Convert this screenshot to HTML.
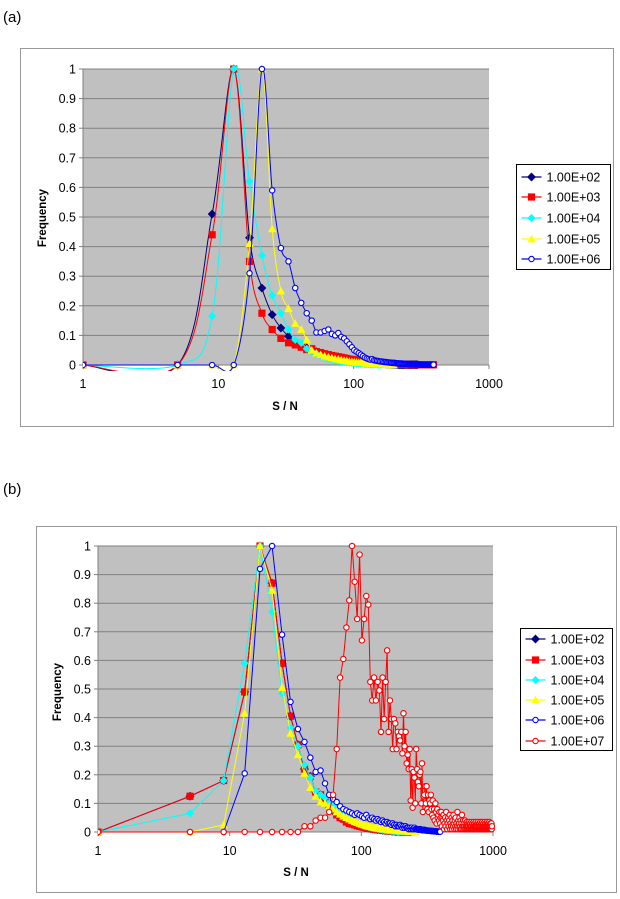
<!DOCTYPE html>
<html><head><meta charset="utf-8"><style>
html,body{margin:0;padding:0;background:#fff;width:620px;height:899px;overflow:hidden}
svg{display:block;font-family:"Liberation Sans",Arial,sans-serif}
</style></head><body>
<svg id="page" width="620" height="899" viewBox="0 0 620 899" xmlns="http://www.w3.org/2000/svg"></svg>
<script>
const binStart = 1, binWidth = 4;
const yTicks = [0,0.1,0.2,0.3,0.4,0.5,0.6,0.7,0.8,0.9,1];
const yTickLabels = ["0","0.1","0.2","0.3","0.4","0.5","0.6","0.7","0.8","0.9","1"];
const xTicks = [1,10,100,1000];
const xTickLabels = ["1","10","100","1000"];
const seriesNamesA = ["1.00E+02","1.00E+03","1.00E+04","1.00E+05","1.00E+06"];
const seriesNamesB = ["1.00E+02","1.00E+03","1.00E+04","1.00E+05","1.00E+06","1.00E+07"];

const aE2 = [0,0,0.51,1,0.43,0.26,0.17,0.125,0.097,0.078,0.066,0.058,0.05,0.045,0.04,0.036,0.032,0.029,0.026,0.024,0.022,0.02,0.018,0.017,0.015,0.014,0.013,0.012,0.011,0.01,0.009,0.009,0.008,0.007,0.007,0.006,0.006,0.005,0.005,0.005,0.004,0.004,0.004,0.003,0.003,0.003,0.003,0.002,0.002,0.002,0.002,0.002,0.002,0.001,0.001,0.001,0.001,0.001,0.001,0.001,0.001,0.001,0.001,0.001,0.001,0.001,0.001,0.001,0.001,0.001,0.001,0.001,0.001,0.001,0.001];
const aE3 = [0,0,0.44,1,0.35,0.175,0.12,0.09,0.075,0.068,0.06,0.052,0.055,0.045,0.042,0.038,0.035,0.032,0.03,0.028,0.026,0.024,0.022,0.02,0.019,0.018,0.016,0.015,0.014,0.013,0.012,0.011,0.01,0.01,0.009,0.008,0.008,0.007,0.007,0.006,0.006,0.005,0.005,0.005,0.004,0.004,0.004,0.004,0.003,0.003,0.003,0.003,0.003,0.002,0.002,0.002,0.002,0.002,0.002,0.002,0.002,0.002,0.001,0.001,0.001,0.001,0.001,0.001,0.001,0.001,0.001,0.001,0.001,0.001,0.001,0.001,0.001,0.001,0.001,0.001,0.001,0.001,0.001,0.001,0.001,0.001,0.001,0.001,0.001,0.001,0.001,0.001,0.001,0.001,0.001,0.001,0.001,0.001];
const aE4 = [0,0,0.165,1,0.62,0.37,0.235,0.175,0.12,0.085,0.075,0.055,0.045,0.038,0.03,0.025,0.021,0.018,0.015,0.013,0.011,0.01,0.009,0.008,0.007,0.006,0.005,0.005,0.004,0.004,0.003,0.003,0.003,0.002,0.002,0.002,0.002,0.001,0.001,0.001];
const aE5 = [0,0,0,0,0.41,1,0.46,0.25,0.19,0.14,0.12,0.085,0.05,0.04,0.035,0.03,0.027,0.024,0.021,0.019,0.017,0.015,0.014,0.012,0.011,0.01,0.009,0.008,0.008,0.007,0.006,0.006,0.005,0.005,0.004,0.004,0.004,0.003,0.003,0.003,0.003,0.002,0.002,0.002,0.002,0.002,0.001,0.001,0.001,0.001];
const aE6 = [0,0,0,0,0.31,1,0.59,0.395,0.35,0.26,0.21,0.175,0.15,0.11,0.11,0.115,0.12,0.105,0.1,0.108,0.095,0.09,0.08,0.07,0.06,0.05,0.045,0.04,0.035,0.03,0.025,0.022,0.02,0.018,0.02,0.016,0.015,0.014,0.013,0.012,0.012,0.011,0.01,0.01,0.009,0.009,0.008,0.008,0.007,0.007,0.007,0.006,0.006,0.006,0.005,0.005,0.005,0.005,0.004,0.004,0.004,0.004,0.004,0.003,0.003,0.003,0.003,0.003,0.003,0.002,0.002,0.002,0.002,0.002,0.002,0.002,0.002,0.002,0.001,0.001,0.001,0.001,0.001,0.001,0.001,0.001,0.001,0.001,0.001,0.001,0.001,0.001,0.001,0.001,0.001,0.001,0.001,0.001];

const bE2 = [0,0.125,0.18,0.49,1,0.87,0.59,0.405,0.305,0.22,0.195,0.14,0.13,0.11,0.09,0.075,0.06,0.05,0.045,0.035,0.03,0.028,0.025,0.022,0.02,0.018,0.016,0.015,0.013,0.012,0.011,0.01,0.009,0.008,0.008,0.007,0.006,0.006,0.005,0.005,0.004,0.004,0.003,0.003,0.003,0.002,0.002,0.002,0.002,0.001,0.001,0.001,0.001,0.001,0.001,0.001,0.001,0.001,0.001,0.001];
const bE3 = [0,0.125,0.18,0.49,1,0.87,0.59,0.405,0.305,0.22,0.195,0.14,0.13,0.11,0.09,0.075,0.06,0.05,0.045,0.035,0.03,0.028,0.025,0.022,0.02,0.018,0.016,0.015,0.013,0.012,0.011,0.01,0.009,0.008,0.008,0.007,0.006,0.006,0.005,0.005,0.004,0.004,0.003,0.003,0.003,0.002,0.002,0.002,0.002,0.001,0.001,0.001,0.001,0.001,0.001,0.001,0.001,0.001,0.001,0.001];
const bE4 = [0,0.065,0.18,0.59,1,0.77,0.485,0.365,0.3,0.235,0.19,0.145,0.13,0.12,0.1,0.09,0.08,0.07,0.06,0.052,0.045,0.04,0.035,0.031,0.028,0.025,0.022,0.02,0.018,0.016,0.014,0.013,0.012,0.011,0.01,0.009,0.008,0.007,0.007,0.006,0.005,0.005,0.004,0.004,0.003,0.003,0.003,0.002,0.002,0.002,0.002,0.001,0.001,0.001,0.001,0.001,0.001,0.001];
const bE5 = [0,0,0.025,0.415,1,0.845,0.505,0.345,0.27,0.205,0.155,0.125,0.105,0.1,0.09,0.08,0.07,0.062,0.055,0.05,0.045,0.04,0.036,0.033,0.03,0.027,0.025,0.022,0.02,0.019,0.017,0.016,0.015,0.014,0.013,0.012,0.011,0.01,0.01,0.009,0.008,0.008,0.007,0.007,0.006,0.006,0.005,0.005,0.005,0.004,0.004,0.004,0.003,0.003,0.003,0.003,0.002,0.002,0.002,0.002,0.002,0.001,0.001,0.001,0.001,0.001];
const bE6 = [0,0,0,0.205,0.92,1,0.69,0.455,0.36,0.315,0.26,0.21,0.215,0.17,0.13,0.115,0.105,0.09,0.08,0.075,0.07,0.065,0.06,0.065,0.06,0.055,0.05,0.06,0.05,0.045,0.05,0.045,0.04,0.045,0.04,0.035,0.04,0.035,0.03,0.035,0.03,0.03,0.025,0.03,0.025,0.02,0.025,0.02,0.02,0.025,0.02,0.015,0.02,0.015,0.02,0.015,0.015,0.01,0.015,0.01,0.015,0.01,0.01,0.015,0.01,0.01,0.01,0.008,0.01,0.008,0.01,0.008,0.006,0.008,0.006,0.008,0.006,0.005,0.006,0.005,0.005,0.004,0.005,0.004,0.004,0.003,0.004,0.003,0.003,0.002,0.003,0.002,0.002,0.002,0.001,0.002,0.001,0.001,0.001,0.001];
const bE7 = [0,0,0,0,0,0,0,0,0,0.02,0.02,0.04,0.05,0.05,0.07,0.13,0.29,0.54,0.605,0.715,0.81,1,0.875,0.745,0.97,0.67,0.745,0.825,0.795,0.525,0.46,0.54,0.46,0.525,0.495,0.35,0.54,0.395,0.525,0.635,0.35,0.46,0.395,0.29,0.395,0.38,0.29,0.35,0.335,0.32,0.35,0.275,0.415,0.3,0.35,0.24,0.27,0.22,0.29,0.11,0.22,0.085,0.21,0.19,0.1,0.29,0.22,0.175,0.16,0.2,0.21,0.1,0.24,0.07,0.125,0.13,
0.16,0.1,0.16,0.08,0.13,0.07,0.11,0.1,0.13,0.08,0.06,0.11,0.05,0.08,0.04,0.1,0.07,0.03,0.08,0.05,0.06,0.04,0.07,0.03,0.05,
0.07,0.02,0.05,0.04,0.06,0.01,0.03,0.05,0.02,0.07,0.04,0.01,0.03,0.05,0.02,0.04,0.06,0.01,0.03,0.02,0.05,0.01,0.04,0.02,0.06,0.03,0.01,0.04,0.02,0.05,0.01,0.03,0.02,0.07,0.01,0.04,0.02,0.03,0.05,0.01,0.02,0.04,0.01,0.03,0.06,0.02,0.01,0.04,0.02,
0.03,0.01,0.02,0.04,0.01,0.03,0.02,0.01,0.035,0.02,0.01,0.03,0.02,0.01,0.035,0.01,0.02,0.03,0.01,0.02,0.01,0.035,0.02,0.01,0.03,0.01,0.02,0.01,0.035,0.02,0.01,0.03,0.02,0.01,0.02,0.035,0.01,0.02,0.01,0.03,0.02,0.01,0.035,0.01,0.02,0.01,0.03,0.02,0.01,0.02,0.035,0.01,0.02,0.01,0.03,0.01,0.02,0.035,0.01,0.02,0.01,0.03,0.02,0.01,0.02,0.01,0.035,0.01,0.02,0.01,0.03,0.02,0.01,0.02,0.01,0.035,0.01,0.02,0.01,0.03,0.02,0.01,0.02,0.01,0.035,0.01,0.02,0.01,0.03,0.02,0.01,0.02,0.01,0.03,0.01,0.02];

const NS = "http://www.w3.org/2000/svg";
const page = document.getElementById('page');
function mk(tag, attrs, parent){ const e=document.createElementNS(NS,tag); for(const k in attrs) e.setAttribute(k,attrs[k]); (parent||page).appendChild(e); return e; }

const styles = [
  {color:'#000080', marker:'diamond', size:4.2},
  {color:'#ff0000', marker:'square', size:3.6},
  {color:'#00ffff', marker:'diamond', size:3.8},
  {color:'#ffff00', marker:'triangle', size:4.2},
  {color:'#0000ff', marker:'circle', size:2.7},
  {color:'#ff0000', marker:'circle', size:2.7}
];

function drawMarker(g, st, x, y){
  let m;
  if(st.marker==='diamond'){ const s=st.size; m=mk('polygon',{points:`${x},${y-s} ${x+s},${y} ${x},${y+s} ${x-s},${y}`,fill:st.color,stroke:st.color,'stroke-width':0.5},g); }
  else if(st.marker==='square'){ const s=st.size; m=mk('rect',{x:x-s,y:y-s,width:2*s,height:2*s,fill:st.color},g); }
  else if(st.marker==='triangle'){ const s=st.size; m=mk('polygon',{points:`${x},${y-s} ${x+s},${y+s*0.8} ${x-s},${y+s*0.8}`,fill:st.color},g); }
  else { m=mk('circle',{cx:x,cy:y,r:st.size,fill:'#fff',stroke:st.color,'stroke-width':1.1},g); }
  
  
}

function smoothPath(pts){
  if(pts.length<2) return '';
  let d=`M${pts[0][0]},${pts[0][1]}`;
  for(let i=0;i<pts.length-1;i++){
    const p0=pts[i-1]||pts[i], p1=pts[i], p2=pts[i+1], p3=pts[i+2]||p2;
    const c1=[p1[0]+(p2[0]-p0[0])/6, p1[1]+(p2[1]-p0[1])/6];
    const c2=[p2[0]-(p3[0]-p1[0])/6, p2[1]-(p3[1]-p1[1])/6];
    d+=` C${c1[0]},${c1[1]} ${c2[0]},${c2[1]} ${p2[0]},${p2[1]}`;
  }
  return d;
}

function chart(cfg){
  const g = mk('g',{});
  
  
  const fr = mk('rect',{x:cfg.frame[0],y:cfg.frame[1],width:cfg.frame[2],height:cfg.frame[3],fill:'#fff',stroke:'#999','stroke-width':1},g);
   
  const [L,T,R,B]=cfg.plot;
  const xs = v => L + (Math.log10(v)-0)/3*(R-L);
  const ys = v => B - v*(B-T);
  const pa = mk('rect',{x:L,y:T,width:R-L,height:B-T,fill:'#c0c0c0'},g);
   
  yTicks.forEach((t,i)=>{
    if(t>0){ const gl=mk('line',{x1:L,x2:R,y1:ys(t),y2:ys(t),stroke:'#808080','stroke-width':1},g);
        }
    mk('line',{x1:L-4,x2:L,y1:ys(t),y2:ys(t),stroke:'#808080'},g);
    const tx=mk('text',{x:L-7,y:ys(t)+4.5,'text-anchor':'end','font-size':12.5,fill:'#000'},g);
    tx.textContent=yTickLabels[i];
     
  });
  mk('line',{x1:L,x2:L,y1:T,y2:B,stroke:'#808080'},g);
  mk('line',{x1:L,x2:R,y1:B,y2:B,stroke:'#808080'},g);
  xTicks.forEach((t,i)=>{
    mk('line',{x1:xs(t),x2:xs(t),y1:B,y2:B+4,stroke:'#808080'},g);
    const tx=mk('text',{x:xs(t),y:cfg.xTickY,'text-anchor':'middle','font-size':12.5},g);
    tx.textContent=xTickLabels[i];
     
  });
  const xt=mk('text',{x:cfg.xTitle[0],y:cfg.xTitle[1],'text-anchor':'middle','font-size':11.5,'font-weight':'bold'},g);
  xt.textContent='S / N';  
  const yt=mk('text',{x:0,y:0,'text-anchor':'middle','font-size':11.5,'font-weight':'bold',transform:`translate(${cfg.yTitle[0]},${cfg.yTitle[1]}) rotate(-90)`},g);
  yt.textContent='Frequency';  

  const clip = 'clip-'+cfg.name;
  const cp = mk('clipPath',{id:clip},g); mk('rect',{x:L,y:T-6,width:R-L+6,height:B-T+12},cp);
  cfg.series.forEach((vals,si)=>{
    const st=styles[si];
    const sg=mk('g',{'clip-path':`url(#${clip})`},g);
    
    
    const pts=vals.map((v,i)=>[xs(binStart+binWidth*i), ys(v)]);
    const d = cfg.smooth ? smoothPath(pts) : 'M'+pts.map(p=>p.join(',')).join(' L');
    const ln=mk('path',{d:d,fill:'none',stroke:st.color,'stroke-width':1},sg);
     
    pts.forEach(p=>drawMarker(sg,st,p[0],p[1]));
  });

  const [lx,ly,lw,lh]=cfg.legend;
  const lg=mk('g',{},g);
   
  mk('rect',{x:lx,y:ly,width:lw,height:lh,fill:'#fff',stroke:'#000','stroke-width':1},lg);
  cfg.names.forEach((n,i)=>{
    const ry=cfg.legendRows[i];
    const eg=mk('g',{},lg);
     
    mk('line',{x1:lx+5,x2:lx+25,y1:ry,y2:ry,stroke:styles[i].color,'stroke-width':1.2},eg);
    drawMarker(eg,styles[i],lx+15,ry);
    const t=mk('text',{x:lx+30,y:ry+4.5,'font-size':12.5},eg); t.textContent=n;
  });
}

const la=mk('text',{x:3,y:22,'font-size':15}); la.textContent='(a)';
 
const lb=mk('text',{x:3,y:494,'font-size':15}); lb.textContent='(b)';
 

chart({name:'chart-a', frame:[20.5,48.5,593,378], plot:[83,69,489,365], xTickY:388, xTitle:[285,410], yTitle:[46,218],
  series:[aE2,aE3,aE4,aE5,aE6], names:seriesNamesA, smooth:true,
  legend:[516.5,164.5,94,105], legendRows:[177,197,218,239,259]});
chart({name:'chart-b', frame:[36.5,526.5,580,366], plot:[98,546,493,832], xTickY:855, xTitle:[296,876], yTitle:[61,692],
  series:[bE2,bE3,bE4,bE5,bE6,bE7], names:seriesNamesB, smooth:false,
  legend:[520.5,628.5,92,122], legendRows:[639,660,680,700,720,741]});
</script>
</body></html>
